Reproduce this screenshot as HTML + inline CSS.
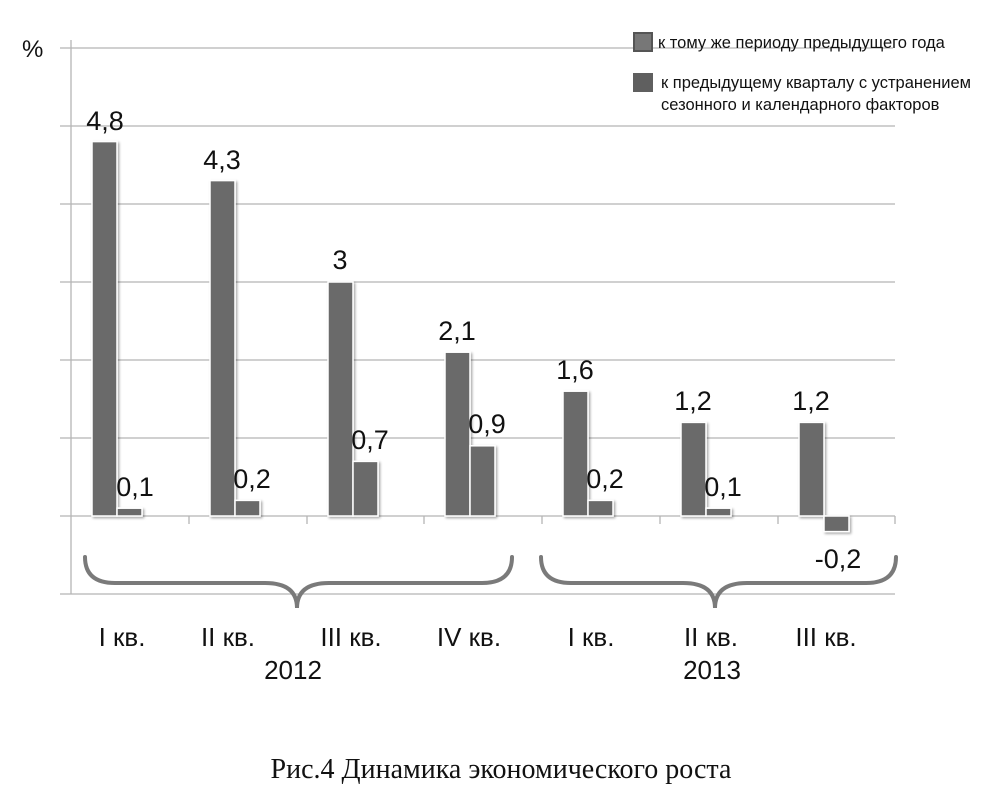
<!DOCTYPE html>
<html><head><meta charset="utf-8"><style>
html,body{margin:0;padding:0;background:#fff;}
svg{display:block;}
text{font-family:"Liberation Sans",sans-serif;fill:#111;}
</style></head><body>
<svg width="1008" height="802" viewBox="0 0 1008 802" xmlns="http://www.w3.org/2000/svg">
<defs>
<filter id="sh" x="-30%" y="-10%" width="160%" height="120%"><feDropShadow dx="1.5" dy="1.5" stdDeviation="1.2" flood-color="#000" flood-opacity="0.35"/></filter>
</defs>
<g stroke="#b5b5b5" stroke-width="1.3">
<line x1="60" y1="48" x2="893" y2="48"/>
<line x1="60" y1="126" x2="895" y2="126"/>
<line x1="60" y1="204" x2="895" y2="204"/>
<line x1="60" y1="282" x2="895" y2="282"/>
<line x1="60" y1="360" x2="895" y2="360"/>
<line x1="60" y1="438" x2="895" y2="438"/>
<line x1="60" y1="516" x2="895" y2="516"/>
<line x1="60" y1="594" x2="895" y2="594"/>
<line x1="71" y1="40" x2="71" y2="594"/>
<line x1="189" y1="516" x2="189" y2="524"/>
<line x1="307" y1="516" x2="307" y2="524"/>
<line x1="424" y1="516" x2="424" y2="524"/>
<line x1="542" y1="516" x2="542" y2="524"/>
<line x1="660" y1="516" x2="660" y2="524"/>
<line x1="778" y1="516" x2="778" y2="524"/>
<line x1="895" y1="516" x2="895" y2="524"/>
</g>
<text x="22" y="57" font-size="24">%</text>
<g fill="#6b6b6b" stroke="#fff" stroke-width="1.5" filter="url(#sh)">
<rect x="92" y="141.6" width="25" height="374.4"/>
<rect x="117" y="508.2" width="25" height="7.8"/>
<rect x="210" y="180.6" width="25" height="335.4"/>
<rect x="235" y="500.4" width="25" height="15.6"/>
<rect x="328" y="282" width="25" height="234"/>
<rect x="353" y="461.4" width="25" height="54.6"/>
<rect x="445" y="352.2" width="25" height="163.8"/>
<rect x="470" y="445.8" width="25" height="70.2"/>
<rect x="563" y="391.2" width="25" height="124.8"/>
<rect x="588" y="500.4" width="25" height="15.6"/>
<rect x="681" y="422.4" width="25" height="93.6"/>
<rect x="706" y="508.2" width="25" height="7.8"/>
<rect x="799" y="422.4" width="25" height="93.6"/>
<rect x="824" y="516" width="25" height="15.6"/>
</g>
<g font-size="27" text-anchor="middle">
<text x="105" y="130">4,8</text>
<text x="135" y="496">0,1</text>
<text x="222" y="169">4,3</text>
<text x="252" y="488">0,2</text>
<text x="340" y="269">3</text>
<text x="370" y="449">0,7</text>
<text x="457" y="340">2,1</text>
<text x="487" y="433">0,9</text>
<text x="575" y="379">1,6</text>
<text x="605" y="488">0,2</text>
<text x="693" y="410">1,2</text>
<text x="723" y="496">0,1</text>
<text x="811" y="410">1,2</text>
<text x="838" y="568">-0,2</text>
</g>
<g fill="none" stroke="#7a7a7a" stroke-width="4" stroke-linecap="round">
<path d="M85 557 Q85 583 115 583 L265 583 Q297 583 297 608 Q297 583 329 583 L482 583 Q512 583 512 557"/>
<path d="M541 557 Q541 583 571 583 L683 583 Q715 583 715 608 Q715 583 747 583 L866 583 Q896 583 896 557"/>
</g>
<g font-size="26" text-anchor="middle">
<text x="122" y="646">I кв.</text>
<text x="228" y="646">II кв.</text>
<text x="351" y="646">III кв.</text>
<text x="469" y="646">IV кв.</text>
<text x="591" y="646">I кв.</text>
<text x="711" y="646">II кв.</text>
<text x="826" y="646">III кв.</text>
<text x="293" y="679">2012</text>
<text x="712" y="679">2013</text>
</g>
<rect x="634" y="33" width="18" height="18" fill="#777" stroke="#555" stroke-width="2"/>
<rect x="633" y="73" width="20" height="19" fill="#5f5f5f"/>
<g font-size="16.5">
<text x="658" y="48">к тому же периоду предыдущего года</text>
<text x="661" y="88">к предыдущему кварталу с устранением</text>
<text x="661" y="110">сезонного и календарного факторов</text>
</g>
<text x="501" y="778" font-size="28" text-anchor="middle" style="font-family:'Liberation Serif',serif">Рис.4 Динамика экономического роста</text>
</svg>
</body></html>
